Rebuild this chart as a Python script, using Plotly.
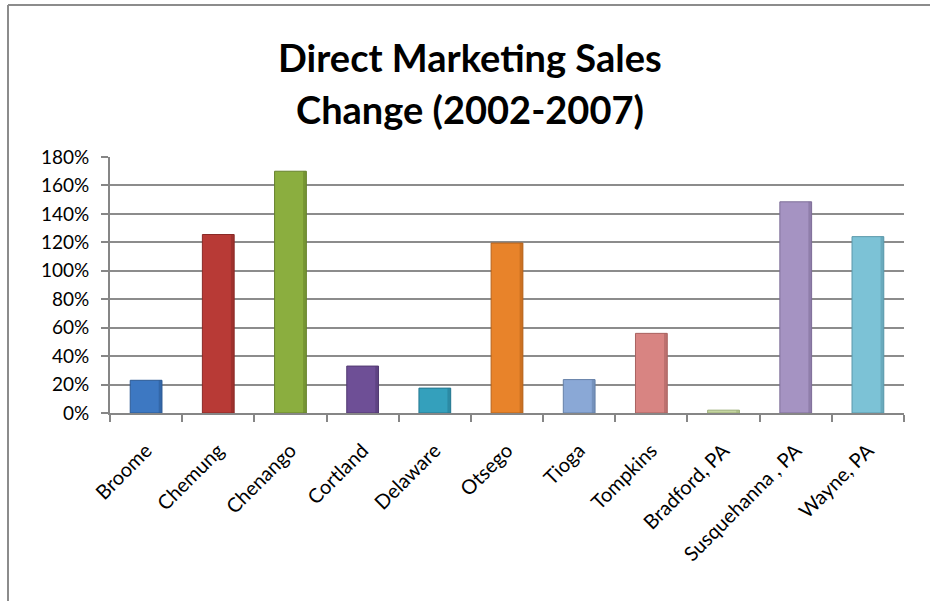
import plotly.graph_objects as go

counties = ["Broome", "Chemung", "Chenango", "Cortland", "Delaware", "Otsego",
            "Tioga", "Tompkins", "Bradford, PA", "Susquehanna , PA", "Wayne, PA"]
change = [0.23, 1.255, 1.70, 0.33, 0.175, 1.195, 0.235, 0.56, 0.02, 1.485, 1.24]
bar_colors = ["#3D78C2", "#B83A36", "#8BAE3F", "#6E4F96", "#34A0BC", "#E8832A",
              "#8AA8D6", "#D88482", "#C5D6A0", "#A593C2", "#7CC2D6"]
edge_colors = ["#2C5A94", "#8A2A27", "#66822C", "#523A72", "#267890", "#B5621C",
               "#6580A8", "#A86260", "#9CAE78", "#7E6E98", "#5A98AA"]
y_ticks = [0, 0.2, 0.4, 0.6, 0.8, 1.0, 1.2, 1.4, 1.6, 1.8]
y_labels = ["0%", "20%", "40%", "60%", "80%", "100%", "120%", "140%", "160%", "180%"]
title_lines = ["Direct Marketing Sales", "Change (2002-2007)"]

BAR_W = 0.44
fig = go.Figure()
fig.add_trace(go.Bar(
    x=counties, y=change, width=BAR_W, offset=-BAR_W / 2,
    marker=dict(color=bar_colors, line=dict(color=edge_colors, width=1)),
    hoverinfo="x+y",
))
# darker shading strip on the right side of each bar (bevel look)
fig.add_trace(go.Bar(
    x=counties, y=change, width=0.045, offset=BAR_W / 2 - 0.045,
    marker=dict(color=edge_colors, opacity=0.55, line=dict(width=0)),
    hoverinfo="skip",
))

W, H = 930, 601
L, R, T, B = 110, 26, 157, 188
pw, ph = W - L - R, H - T - B

def px_x(p):
    return (p - L) / pw

def px_y(p):
    return (H - B - p) / ph

annotations = []
for line, yc in zip(title_lines, [57, 109]):
    annotations.append(dict(
        text=f"<b>{line}</b>", xref="paper", yref="paper",
        x=px_x(470), y=px_y(yc), xanchor="center", yanchor="middle",
        showarrow=False, font=dict(family="Lato, sans-serif", size=38, color="#000000"),
    ))

fig.update_layout(
    width=W, height=H,
    margin=dict(l=L, r=R, t=T, b=B),
    paper_bgcolor="white", plot_bgcolor="white",
    showlegend=False,
    barmode="overlay",
    font=dict(family="Lato, 'Open Sans', sans-serif", size=20, color="#000000"),
    annotations=annotations,
    xaxis=dict(
        type="category", showgrid=False, showline=True, linecolor="#868686", linewidth=2,
        ticks="outside", tickson="boundaries", ticklen=7, tickcolor="#868686", tickwidth=2,
        tickangle=-45, tickfont=dict(size=20), range=[-0.5, 10.5],
        ticklabelstandoff=16,
    ),
    yaxis=dict(
        range=[0, 1.8], tickvals=y_ticks, ticktext=y_labels,
        showgrid=True, gridcolor="#8C8C8C", gridwidth=1.5,
        showline=True, linecolor="#868686", linewidth=2,
        ticks="outside", ticklen=7, tickcolor="#868686", tickwidth=2,
        tickfont=dict(size=19), zeroline=False, ticklabelstandoff=8,
    ),
    shapes=[
        dict(type="line", xref="paper", yref="paper",
             x0=px_x(8), x1=px_x(935), y0=px_y(5), y1=px_y(5),
             line=dict(color="#8C8C8C", width=2)),
        dict(type="line", xref="paper", yref="paper",
             x0=px_x(8), x1=px_x(8), y0=px_y(5), y1=px_y(610),
             line=dict(color="#8C8C8C", width=2)),
    ],
)

fig.write_html(
    "out.html",
    config={"displayModeBar": False},
    post_script="document.body.style.margin='0';document.body.style.overflow='hidden';",
)
